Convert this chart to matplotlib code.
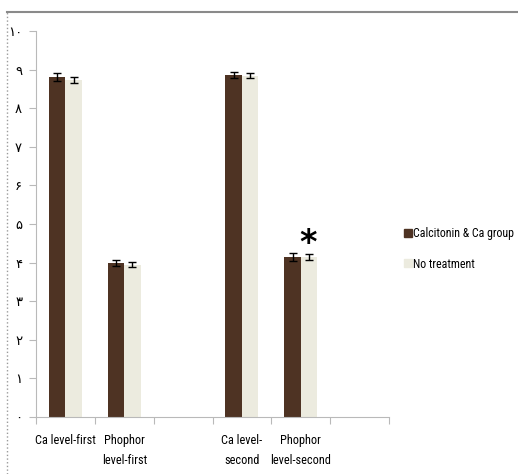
import matplotlib
matplotlib.use("Agg")
import matplotlib.pyplot as plt
import numpy as np
from matplotlib.lines import Line2D
from matplotlib import font_manager

# data
categories = ["Ca level-first", "Phophor\nlevel-first", "", "Ca level-\nsecond", "Phophor\nlevel-second", ""]
calcitonin = [8.81, 3.98, 0, 8.86, 4.14, 0]
calcitonin_err = [0.11, 0.08, 0, 0.09, 0.1, 0]
no_treat = [8.73, 3.95, 0, 8.84, 4.14, 0]
no_treat_err = [0.09, 0.06, 0, 0.07, 0.07, 0]
has_bar = [True, True, False, True, True, False]
yticks = list(range(0, 11))
ytick_labels = ["۰", "۱", "۲", "۳", "۴", "۵", "۶", "۷", "۸", "۹", "۱۰"]

dark = "#4e3323"
light = "#ecebdf"
grey = "#b9b9b9"

# pick a narrow font if one is installed
fonts = font_manager.fontManager.ttflist
narrow = None
for f in fonts:
    if f.name in ("Liberation Sans Narrow", "Roboto Condensed", "Open Sans Condensed"):
        narrow = dict(family=f.name)
        break
if narrow is None:
    for f in fonts:
        if f.name == "DejaVu Sans" and f.stretch == "condensed":
            narrow = dict(family="DejaVu Sans", stretch="condensed")
            break
if narrow is None:
    narrow = dict(family="DejaVu Sans")

fig = plt.figure(figsize=(5.18, 4.74), dpi=100)
ax = fig.add_axes([0.0695, 0.1203, 0.6815, 0.8143])

x = np.arange(len(categories)) + 0.5
w = 0.28
idx = [i for i in range(len(categories)) if has_bar[i]]
xs = x[idx]
ax.bar(xs - w / 2, [calcitonin[i] for i in idx], w, color=dark,
       yerr=[calcitonin_err[i] for i in idx], error_kw=dict(ecolor="black", elinewidth=1, capsize=3, capthick=1))
ax.bar(xs + w / 2, [no_treat[i] for i in idx], w, color=light,
       yerr=[no_treat_err[i] for i in idx], error_kw=dict(ecolor="black", elinewidth=1, capsize=3, capthick=1))

# significance mark on phosphorus, second measurement
ax.text(x[4] + w / 2 - 0.02, no_treat[4] - 0.08, "*", ha="center", va="bottom",
        fontsize=24, fontweight="bold", color="black")

ax.set_xlim(0, len(categories))
ax.set_ylim(0, 10)
ax.set_yticks(yticks)
ax.set_yticklabels(ytick_labels, family="DejaVu Sans", fontsize=9.5)
ax.set_xticks(np.arange(len(categories) + 1))
ax.set_xticklabels([])
ax.set_xticks(x, minor=True)
ax.set_xticklabels(categories, minor=True, fontsize=8.8, linespacing=1.75, va="top", **narrow)
ax.tick_params(axis="x", which="minor", length=0, pad=12)
ax.tick_params(axis="x", which="major", length=5, color=grey)
ax.tick_params(axis="y", length=5, color=grey, pad=5)

for s in ["top", "right"]:
    ax.spines[s].set_visible(False)
ax.spines["left"].set_color(grey)
ax.spines["bottom"].set_color(grey)

handles = [Line2D([], [], marker="s", color=dark, linestyle="none", markersize=6),
           Line2D([], [], marker="s", color=light, linestyle="none", markersize=6)]
fig.legend(handles, ["Calcitonin & Ca group", "No treatment"], loc="center left",
           bbox_to_anchor=(0.76, 0.475), frameon=False, handlelength=0.6, handletextpad=0.15,
           labelspacing=1.45, prop=dict(size=8.6, **narrow))

# outer frame of the chart area
fig.add_artist(Line2D([7 / 518, 1], [1 - 12 / 474] * 2, color="#8a8a8a", lw=1.5, transform=fig.transFigure))
fig.add_artist(Line2D([7 / 518] * 2, [0, 1 - 12 / 474], color="#9a9a9a", lw=1, ls=":", transform=fig.transFigure))

fig.savefig("out.png", dpi=100)
